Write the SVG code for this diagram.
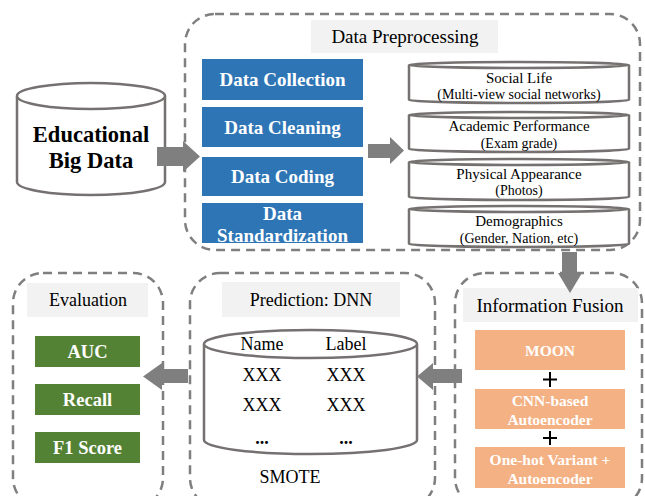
<svg xmlns="http://www.w3.org/2000/svg" width="645" height="496" viewBox="0 0 645 496">
<style>
text{font-family:'Liberation Serif','Times New Roman',Times,'DejaVu Serif',serif}
.dash{fill:none;stroke:#7f7f7f;stroke-width:2.5;stroke-dasharray:9 6}
.ttl{fill:#f2f2f2}
.tt{fill:#000;text-anchor:middle}
.wb{font-weight:bold;fill:#fff;text-anchor:middle}
.blue{fill:#2e75b6}
.green{fill:#548235}
.orange{fill:#f4b183}
.cyl{fill:#fff;stroke:#767171;stroke-width:2.5}
.arr{fill:#7f7f7f}
</style>
<rect width="645" height="496" fill="#fff"/>

<g id="preprocessing">
<rect class="dash" x="185" y="14" width="455" height="236" rx="30"/>
<rect class="ttl" x="311" y="20" width="187" height="33"/>
<text class="tt" x="405" y="43" font-size="19">Data Preprocessing</text>
</g>

<g id="data-collection"><rect class="blue" x="202" y="59" width="161" height="41"/><text class="wb" x="282.5" y="86" font-size="19">Data Collection</text></g>
<g id="data-cleaning"><rect class="blue" x="202" y="107" width="161" height="40"/><text class="wb" x="282.5" y="134" font-size="19">Data Cleaning</text></g>
<g id="data-coding"><rect class="blue" x="202" y="157" width="161" height="39"/><text class="wb" x="282.5" y="183" font-size="19">Data Coding</text></g>
<g id="data-standardization"><rect class="blue" x="202" y="203" width="161" height="40"/><text class="wb" x="282.5" y="220" font-size="19">Data</text><text class="wb" x="282.5" y="242" font-size="19">Standardization</text></g>

<g id="educational-big-data">
<path class="cyl" d="M17,96 L17,182 A74,13 0 0 0 165,182 L165,96"/>
<ellipse class="cyl" cx="91" cy="96" rx="74" ry="13"/>
<text class="tt" x="91" y="142" font-size="22.5" font-weight="bold">Educational</text>
<text class="tt" x="91" y="168" font-size="22.5" font-weight="bold">Big Data</text>
</g>

<g id="social-life">
<path class="cyl" d="M409,65 L409,100 A110,3 0 0 0 629,100 L629,65"/>
<ellipse class="cyl" cx="519" cy="65" rx="110" ry="3"/>
<text class="tt" x="519" y="83" font-size="15">Social Life</text>
<text class="tt" x="519" y="99" font-size="14">(Multi-view social networks)</text>
</g>
<g id="academic-performance">
<path class="cyl" d="M409,115 L409,149 A110,3 0 0 0 629,149 L629,115"/>
<ellipse class="cyl" cx="519" cy="115" rx="110" ry="3"/>
<text class="tt" x="519" y="131" font-size="15">Academic Performance</text>
<text class="tt" x="519" y="148" font-size="14">(Exam grade)</text>
</g>
<g id="physical-appearance">
<path class="cyl" d="M409,162 L409,197 A110,3 0 0 0 629,197 L629,162"/>
<ellipse class="cyl" cx="519" cy="162" rx="110" ry="3"/>
<text class="tt" x="519" y="179" font-size="15">Physical Appearance</text>
<text class="tt" x="519" y="195" font-size="14">(Photos)</text>
</g>
<g id="demographics">
<path class="cyl" d="M409,209 L409,244 A110,3 0 0 0 629,244 L629,209"/>
<ellipse class="cyl" cx="519" cy="209" rx="110" ry="3"/>
<text class="tt" x="519" y="226" font-size="15">Demographics</text>
<text class="tt" x="519" y="243" font-size="14">(Gender, Nation, etc)</text>
</g>

<g id="information-fusion">
<rect class="dash" x="455" y="273" width="187" height="235" rx="30"/>
<rect class="ttl" x="463" y="288" width="175" height="34"/>
<text class="tt" x="550" y="312" font-size="19">Information Fusion</text>
</g>
<g id="moon"><rect class="orange" x="475" y="330" width="150" height="40"/><text class="wb" x="550" y="356" font-size="15.5">MOON</text></g>
<path d="M550,372 V387 M543,379.5 H557" stroke="#000" stroke-width="2" fill="none"/>
<g id="cnn-autoencoder"><rect class="orange" x="475" y="389" width="150" height="40"/><text class="wb" x="550" y="406" font-size="15.5">CNN-based</text><text class="wb" x="550" y="425" font-size="15.5">Autoencoder</text></g>
<path d="M550,431 V445 M543,438 H557" stroke="#000" stroke-width="2" fill="none"/>
<g id="onehot-autoencoder"><rect class="orange" x="475" y="447" width="150" height="41"/><text class="wb" x="550" y="465" font-size="15.5">One-hot Variant +</text><text class="wb" x="550" y="484" font-size="15.5">Autoencoder</text></g>

<g id="prediction">
<rect class="dash" x="190" y="273" width="245" height="235" rx="30"/>
<rect class="ttl" x="222" y="282" width="178" height="35"/>
<text class="tt" x="311" y="306" font-size="18">Prediction: DNN</text>
<path class="cyl" d="M204,344 L204,440 A106.5,14 0 0 0 417,440 L417,344"/>
<ellipse class="cyl" cx="310.5" cy="344" rx="106.5" ry="14"/>
<text class="tt" x="262" y="350" font-size="18">Name</text>
<text class="tt" x="346" y="350" font-size="18">Label</text>
<text class="tt" x="262" y="381" font-size="18">XXX</text>
<text class="tt" x="346" y="381" font-size="18">XXX</text>
<text class="tt" x="262" y="411" font-size="18">XXX</text>
<text class="tt" x="346" y="411" font-size="18">XXX</text>
<text class="tt" x="262" y="444" font-size="18" font-weight="bold">...</text>
<text class="tt" x="346" y="444" font-size="18" font-weight="bold">...</text>
<text class="tt" x="290" y="483" font-size="18">SMOTE</text>
</g>

<g id="evaluation">
<rect class="dash" x="13" y="273" width="150" height="235" rx="30"/>
<rect class="ttl" x="27" y="283" width="121" height="34"/>
<text class="tt" x="88" y="306" font-size="18">Evaluation</text>
</g>
<g id="auc"><rect class="green" x="35" y="336" width="105" height="31"/><text class="wb" x="87.5" y="358" font-size="18.5">AUC</text></g>
<g id="recall"><rect class="green" x="35" y="384" width="105" height="31"/><text class="wb" x="87.5" y="406" font-size="18.5">Recall</text></g>
<g id="f1-score"><rect class="green" x="35" y="432" width="105" height="31"/><text class="wb" x="87.5" y="454" font-size="18.5">F1 Score</text></g>

<g id="connectors">
<polygon class="arr" points="157,147 183,147 183,141 200,156.5 183,172 183,166 157,166"/>
<polygon class="arr" points="368,144 390,144 390,137 404,150.5 390,164 390,158 368,158"/>
<polygon class="arr" points="562,252 577,252 577,273 582,273 570,293 558,273 562,273"/>
<polygon class="arr" points="462,369 433,369 433,363 417,376.5 433,390 433,383 462,383"/>
<polygon class="arr" points="188,369 162,369 162,363 143,376.5 162,390 162,383 188,383"/>
</g>
</svg>
